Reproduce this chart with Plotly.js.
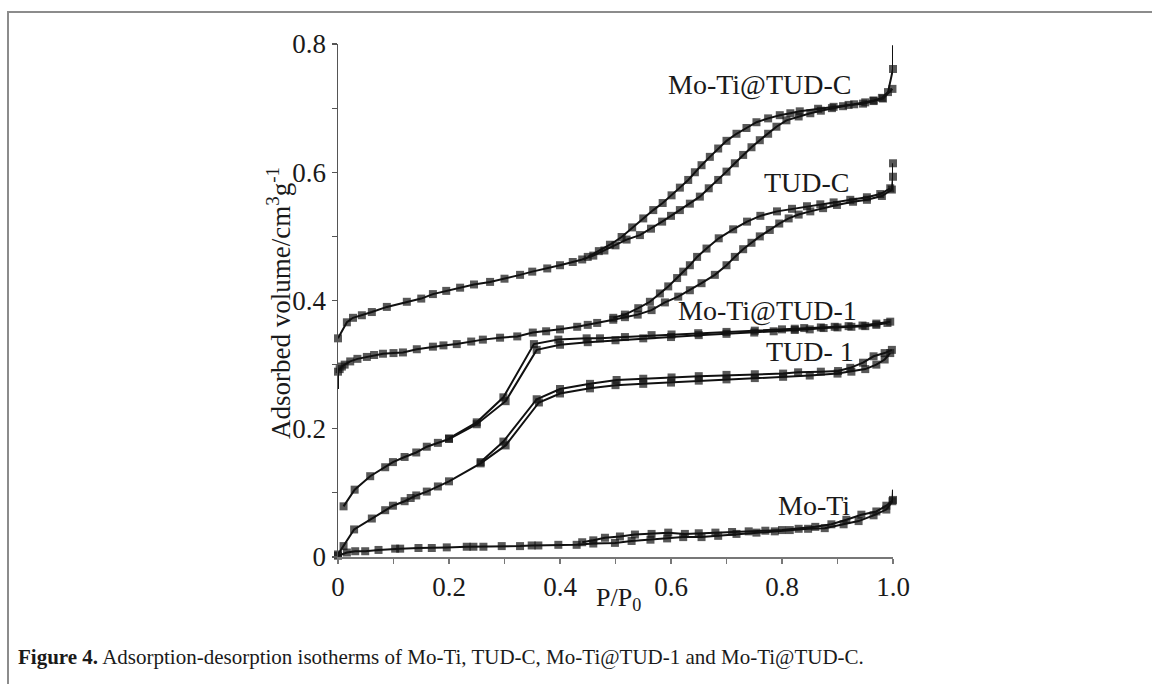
<!DOCTYPE html>
<html>
<head>
<meta charset="utf-8">
<script src="https://cdn.plot.ly/plotly-3.0.1.min.js"></script>
<style>
  html, body { margin: 0; padding: 0; background: #fff; }
  #frame { position: absolute; left: 7px; top: 11px; width: 1145px; height: 673px;
           border-top: 2px solid #8c8c8c; border-left: 2px solid #8c8c8c; }
  #chart { position: absolute; left: 0; top: 0; width: 1152px; height: 684px; }
</style>
</head>
<body>
<div id="frame"></div>
<div id="chart"></div>
<script>
// ---------------- data (P/P0, adsorbed volume) ----------------
const moTiTudC_ads_P = [0.0,0.016,0.027,0.043,0.061,0.088,0.124,0.15,0.171,0.195,0.22,0.245,0.274,0.3,0.328,0.35,0.377,0.4,0.423,0.44,0.46,0.48,0.5,0.52,0.544,0.564,0.584,0.6,0.616,0.634,0.652,0.668,0.685,0.7,0.715,0.73,0.745,0.76,0.775,0.79,0.808,0.83,0.851,0.87,0.89,0.91,0.93,0.95,0.965,0.98,0.991,1.0,1.0];
const moTiTudC_ads_V = [0.341,0.366,0.373,0.377,0.382,0.39,0.398,0.403,0.41,0.415,0.42,0.425,0.429,0.434,0.44,0.445,0.45,0.455,0.46,0.464,0.47,0.478,0.486,0.495,0.502,0.512,0.523,0.532,0.541,0.551,0.562,0.575,0.588,0.601,0.614,0.627,0.639,0.65,0.66,0.671,0.681,0.687,0.692,0.696,0.7,0.703,0.706,0.709,0.712,0.716,0.725,0.761,0.798];
const moTiTudC_des_P = [0.999,0.982,0.965,0.946,0.92,0.893,0.865,0.832,0.815,0.796,0.775,0.754,0.736,0.718,0.7,0.685,0.67,0.655,0.643,0.631,0.616,0.601,0.585,0.568,0.55,0.53,0.511,0.49,0.47,0.45];
const moTiTudC_des_V = [0.73,0.715,0.711,0.707,0.705,0.702,0.699,0.695,0.692,0.689,0.684,0.678,0.669,0.66,0.649,0.637,0.624,0.611,0.6,0.588,0.576,0.564,0.552,0.541,0.528,0.514,0.499,0.487,0.477,0.468];

const tudC_ads_P = [0.0,0.0,0.003,0.007,0.012,0.022,0.035,0.052,0.065,0.081,0.1,0.117,0.142,0.171,0.19,0.214,0.24,0.261,0.292,0.323,0.351,0.375,0.4,0.431,0.45,0.467,0.496,0.517,0.54,0.565,0.589,0.613,0.634,0.655,0.679,0.7,0.715,0.73,0.745,0.76,0.778,0.795,0.812,0.83,0.851,0.874,0.899,0.928,0.953,0.98,0.998,1.0,1.0];
const tudC_ads_V = [0.262,0.289,0.293,0.297,0.3,0.305,0.309,0.312,0.315,0.317,0.318,0.319,0.324,0.328,0.33,0.332,0.336,0.339,0.342,0.344,0.35,0.352,0.355,0.359,0.362,0.365,0.37,0.374,0.378,0.385,0.397,0.406,0.416,0.427,0.44,0.455,0.468,0.48,0.49,0.5,0.51,0.52,0.528,0.534,0.539,0.544,0.549,0.554,0.557,0.563,0.573,0.593,0.614];
const tudC_des_P = [0.995,0.977,0.953,0.923,0.893,0.869,0.845,0.818,0.791,0.761,0.737,0.712,0.686,0.664,0.647,0.634,0.622,0.611,0.595,0.58,0.562,0.541,0.517,0.496];
const tudC_des_V = [0.575,0.566,0.561,0.557,0.553,0.55,0.547,0.543,0.539,0.532,0.523,0.511,0.497,0.481,0.468,0.455,0.445,0.435,0.422,0.411,0.398,0.388,0.378,0.373];

const moTiTud1_ads_P = [0.01,0.03,0.058,0.085,0.099,0.12,0.141,0.16,0.18,0.2,0.25,0.302,0.358,0.4,0.45,0.5,0.55,0.6,0.65,0.7,0.75,0.785,0.823,0.85,0.875,0.9,0.925,0.95,0.97,0.99];
const moTiTud1_ads_V = [0.079,0.105,0.126,0.14,0.148,0.156,0.163,0.172,0.178,0.184,0.207,0.243,0.323,0.331,0.335,0.338,0.341,0.343,0.346,0.348,0.35,0.352,0.354,0.355,0.357,0.358,0.359,0.36,0.362,0.365];
const moTiTud1_des_P = [0.995,0.97,0.945,0.92,0.895,0.87,0.84,0.823,0.8,0.751,0.7,0.649,0.601,0.565,0.517,0.472,0.448,0.397,0.353,0.298,0.25,0.2];
const moTiTud1_des_V = [0.367,0.364,0.361,0.36,0.359,0.358,0.357,0.356,0.355,0.353,0.351,0.349,0.347,0.346,0.343,0.341,0.341,0.339,0.332,0.249,0.21,0.185];

const tud1_ads_P = [0.0,0.01,0.029,0.061,0.085,0.099,0.12,0.131,0.141,0.16,0.18,0.2,0.257,0.302,0.362,0.4,0.454,0.5,0.55,0.6,0.65,0.7,0.751,0.802,0.85,0.9,0.925,0.95,0.97,0.985,0.995];
const tud1_ads_V = [0.004,0.017,0.043,0.06,0.073,0.08,0.087,0.092,0.096,0.102,0.11,0.118,0.146,0.174,0.241,0.255,0.263,0.268,0.27,0.272,0.275,0.277,0.279,0.281,0.283,0.286,0.289,0.293,0.3,0.308,0.318];
const tud1_des_P = [0.998,0.985,0.965,0.946,0.923,0.901,0.87,0.829,0.802,0.751,0.7,0.65,0.601,0.55,0.502,0.454,0.4,0.358,0.298,0.257];
const tud1_des_V = [0.323,0.318,0.313,0.303,0.295,0.29,0.289,0.288,0.286,0.285,0.284,0.282,0.28,0.278,0.276,0.27,0.262,0.246,0.18,0.148];

const moTi_ads_P = [0.0,0.016,0.031,0.049,0.073,0.103,0.112,0.145,0.169,0.196,0.232,0.244,0.262,0.295,0.328,0.349,0.361,0.397,0.43,0.46,0.499,0.529,0.563,0.593,0.622,0.655,0.685,0.718,0.754,0.787,0.814,0.847,0.877,0.911,0.938,0.965,0.988,0.999,1.0];
const moTi_ads_V = [0.002,0.007,0.009,0.009,0.011,0.013,0.013,0.014,0.014,0.015,0.016,0.016,0.016,0.017,0.017,0.018,0.018,0.019,0.019,0.021,0.022,0.025,0.027,0.029,0.031,0.031,0.033,0.036,0.038,0.04,0.042,0.044,0.045,0.051,0.056,0.065,0.074,0.087,0.105];
const moTi_des_P = [1.0,0.988,0.97,0.943,0.916,0.889,0.86,0.83,0.8,0.77,0.74,0.71,0.68,0.65,0.625,0.595,0.565,0.535,0.508,0.481,0.46,0.44];
const moTi_des_V = [0.089,0.08,0.071,0.066,0.058,0.051,0.047,0.044,0.042,0.041,0.04,0.039,0.038,0.037,0.036,0.038,0.036,0.035,0.032,0.03,0.026,0.023];

const seriesLabels = ['Mo-Ti@TUD-C','TUD-C','Mo-Ti@TUD-1','TUD- 1','Mo-Ti'];
const labelP = [0.760,0.845,0.773,0.850,0.858];
const labelV = [0.737,0.584,0.385,0.320,0.080];

const xTickVals = [0,0.2,0.4,0.6,0.8,1.0];
const xTickText = ['0','0.2','0.4','0.6','0.8','1.0'];
const yTickVals = [0,0.2,0.4,0.6,0.8];
const yTickText = ['0','0.2','0.4','0.6','0.8'];

// ---------------- drawing ----------------
const INK = '#111111';
function trace(P, V, hideFirst, hideLast) {
  const sizes = P.map((_, i) => ((hideFirst && i === 0) || (hideLast && i === P.length - 1)) ? 0 : 8);
  return { x: P, y: V, type: 'scatter', mode: 'lines+markers', cliponaxis: false,
           line: { color: INK, width: 2 },
           marker: { symbol: 'square', size: sizes, color: INK, line: { width: 0 } },
           showlegend: false, hoverinfo: 'skip' };
}
const data = [
  trace(moTi_ads_P, moTi_ads_V, false, true),
  trace(moTi_des_P, moTi_des_V),
  trace(tud1_ads_P, tud1_ads_V),
  trace(tud1_des_P, tud1_des_V),
  trace(moTiTud1_ads_P, moTiTud1_ads_V),
  trace(moTiTud1_des_P, moTiTud1_des_V),
  trace(tudC_ads_P, tudC_ads_V, true, false),
  trace(tudC_des_P, tudC_des_V),
  trace(moTiTudC_ads_P, moTiTudC_ads_V, false, true),
  trace(moTiTudC_des_P, moTiTudC_des_V)
];

const W = 1152, H = 684;
const mL = 338, mR = W - 893, mT = 43.5, mB = H - 557.5;
const pw = W - mL - mR, ph = H - mT - mB;
const px2x = px => (px - mL) / pw;
const py2y = py => (H - mB - py) / ph;

const SERIF = '"Liberation Serif", "Times New Roman", serif';
const annotations = seriesLabels.map((t, i) => ({
  text: t, x: labelP[i], y: labelV[i], xref: 'x', yref: 'y', showarrow: false,
  xanchor: 'center', yanchor: 'middle', font: { family: SERIF, size: 28, color: '#1a1a1a' }
}));
annotations.push({
  text: 'Adsorbed volume/cm<sup>3</sup>g<sup>-1</sup>', textangle: -90,
  x: px2x(279), y: py2y(303), xref: 'paper', yref: 'paper', showarrow: false,
  xanchor: 'center', yanchor: 'middle', font: { family: SERIF, size: 27, color: '#1a1a1a' }
});
annotations.push({
  text: 'P/P<sub>0</sub>', x: px2x(618), y: py2y(600), xref: 'paper', yref: 'paper', showarrow: false,
  xanchor: 'center', yanchor: 'middle', font: { family: SERIF, size: 26, color: '#1a1a1a' }
});
annotations.push({
  text: '<b>Figure 4.</b> Adsorption-desorption isotherms of Mo-Ti, TUD-C, Mo-Ti@TUD-1 and Mo-Ti@TUD-C.',
  x: px2x(16), y: py2y(658), xref: 'paper', yref: 'paper', showarrow: false,
  xanchor: 'left', yanchor: 'middle', font: { family: SERIF, size: 21, color: '#1a1a1a' }
});

const layout = {
  width: W, height: H,
  margin: { l: mL, r: mR, t: mT, b: mB, pad: 0 },
  paper_bgcolor: 'rgba(0,0,0,0)', plot_bgcolor: 'rgba(0,0,0,0)',
  font: { family: SERIF, color: '#1a1a1a' },
  xaxis: {
    range: [0, 1], showgrid: false, zeroline: false, showline: true, linecolor: '#777', linewidth: 1.5,
    tickvals: xTickVals, ticktext: xTickText, ticks: 'outside', ticklen: 5, tickcolor: '#777', tickwidth: 1.2,
    minor: { tickvals: [0.1,0.3,0.5,0.7,0.9], ticks: 'outside', ticklen: 5, tickcolor: '#777', tickwidth: 1.2 },
    tickfont: { family: SERIF, size: 27, color: '#1a1a1a' }
  },
  yaxis: {
    range: [0, 0.8], showgrid: false, zeroline: false, showline: true, linecolor: '#555', linewidth: 1.5,
    tickvals: yTickVals, ticktext: yTickText, ticks: 'outside', ticklen: 5, tickcolor: '#555', tickwidth: 1.2,
    minor: { tickvals: [0.1,0.3,0.5,0.7], ticks: 'outside', ticklen: 5, tickcolor: '#555', tickwidth: 1.2 },
    tickfont: { family: SERIF, size: 27, color: '#1a1a1a' }
  },
  annotations: annotations
};
Plotly.newPlot('chart', data, layout, { staticPlot: true, displayModeBar: false });
</script>
</body>
</html>
